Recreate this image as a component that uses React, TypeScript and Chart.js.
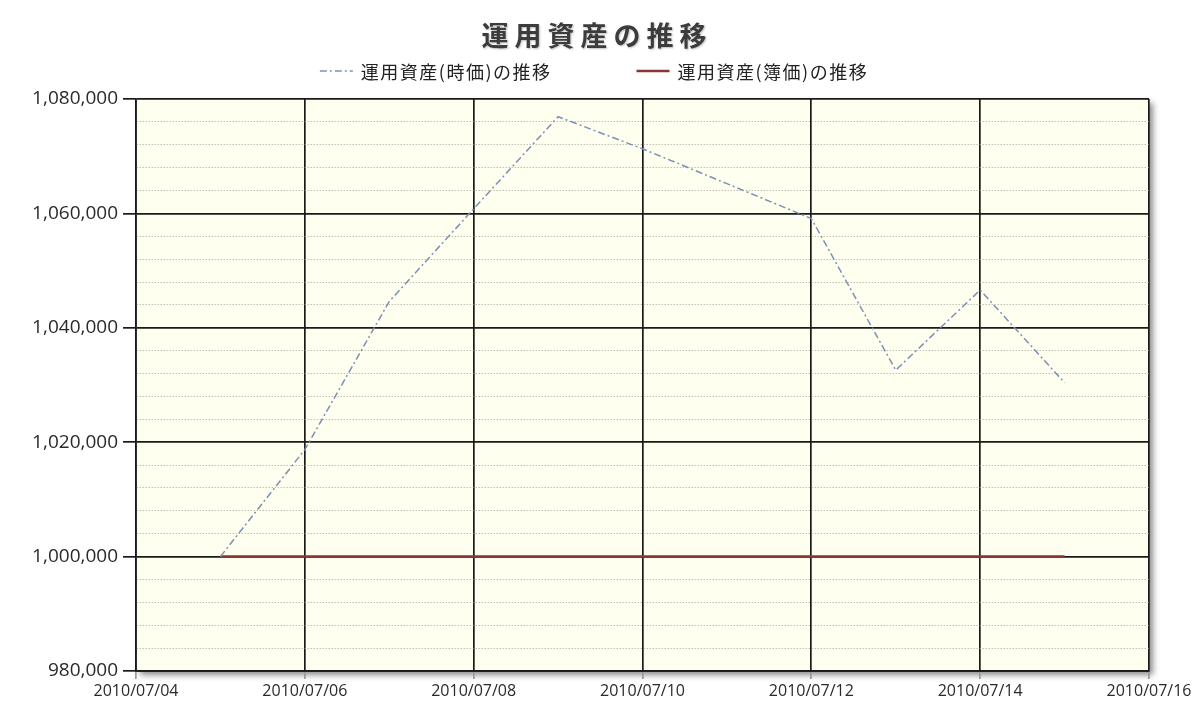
import React, { useEffect, useRef } from "react";
import { Chart, registerables } from "chart.js";

Chart.register(...registerables);

// ---- data ----
const TITLE = "運用資産の推移";
const SERIES_NAMES = ["運用資産(時価)の推移", "運用資産(簿価)の推移"];
const DATES = [
  "2010/07/05",
  "2010/07/06",
  "2010/07/07",
  "2010/07/08",
  "2010/07/09",
  "2010/07/10",
  "2010/07/11",
  "2010/07/12",
  "2010/07/13",
  "2010/07/14",
  "2010/07/15",
];
const MARKET_VALUES = [
  1000000, 1018700, 1044600, 1060800, 1076900, 1071300, 1065200, 1059100,
  1032600, 1046600, 1030400,
];
const BOOK_VALUES = [
  1000000, 1000000, 1000000, 1000000, 1000000, 1000000, 1000000, 1000000,
  1000000, 1000000, 1000000,
];
const X_START = "2010/07/04";
const X_END = "2010/07/16";
const X_STEP_DAYS = 2;
const Y_MIN = 980000;
const Y_MAX = 1080000;
const Y_MAJOR = 20000;
const Y_MINOR = 4000;

// ---- helpers ----
const DAY_MS = 86400000;
function parseDay(s: string): number {
  const [y, m, d] = s.split("/").map(Number);
  return Math.round(Date.UTC(y, m - 1, d) / DAY_MS);
}
const BASE_DAY = parseDay(X_START);
const dayOffset = (s: string) => parseDay(s) - BASE_DAY;
const pad2 = (n: number) => String(n).padStart(2, "0");
function formatDay(offset: number): string {
  const d = new Date((BASE_DAY + offset) * DAY_MS);
  return `${d.getUTCFullYear()}/${pad2(d.getUTCMonth() + 1)}/${pad2(d.getUTCDate())}`;
}
const isMajor = (v: number) => Math.abs((v - Y_MIN) % Y_MAJOR) < 1e-6;

const CJK = '"Noto Sans CJK JP", "Noto Sans", sans-serif';
const NUM = '"Open Sans", "Noto Sans", sans-serif';

const plotBackground = {
  id: "plotBackground",
  beforeDraw(chart: any) {
    const { ctx, chartArea: a } = chart;
    ctx.save();
    ctx.shadowColor = "rgba(0,0,0,0.45)";
    ctx.shadowBlur = 6;
    ctx.shadowOffsetX = 4;
    ctx.shadowOffsetY = 4;
    ctx.fillStyle = "#FFFFF0";
    ctx.fillRect(a.left, a.top, a.width, a.height);
    ctx.restore();
  },
};

const titleAndLegend = {
  id: "titleAndLegend",
  afterDraw(chart: any) {
    const { ctx } = chart;
    const cx = 594;
    // title
    ctx.save();
    ctx.font = `bold 27px ${CJK}`;
    (ctx as any).letterSpacing = "6px";
    ctx.fillStyle = "#3c3c3c";
    ctx.textAlign = "center";
    ctx.textBaseline = "middle";
    ctx.shadowColor = "rgba(0,0,0,0.25)";
    ctx.shadowBlur = 2;
    ctx.shadowOffsetX = 1;
    ctx.shadowOffsetY = 1;
    ctx.fillText(chart.options.plugins.customTitle.text, cx + 3, 36);
    ctx.restore();

    // legend
    ctx.save();
    ctx.font = `18px ${CJK}`;
    (ctx as any).letterSpacing = "1.5px";
    ctx.textBaseline = "middle";
    const lineW = 33;
    const lineGap = 8;
    const itemGap = 85;
    const ds = chart.data.datasets;
    const widths = ds.map((d: any) => lineW + lineGap + ctx.measureText(d.label).width);
    const total = widths.reduce((s: number, w: number) => s + w, 0) + itemGap * (ds.length - 1);
    let x = cx - total / 2;
    const y = 71;
    ds.forEach((d: any, i: number) => {
      ctx.save();
      ctx.strokeStyle = d.borderColor;
      ctx.lineWidth = d.borderWidth;
      ctx.setLineDash(d.borderDash || []);
      ctx.beginPath();
      ctx.moveTo(x, y);
      ctx.lineTo(x + lineW, y);
      ctx.stroke();
      ctx.restore();
      ctx.fillStyle = "#222";
      ctx.fillText(d.label, x + lineW + lineGap, y + 1);
      x += widths[i] + itemGap;
    });
    ctx.restore();
  },
};

export default function App() {
  const canvasRef = useRef<HTMLCanvasElement | null>(null);

  useEffect(() => {
    if (!canvasRef.current) return;
    const chart = new Chart(canvasRef.current, {
      type: "line",
      data: {
        datasets: [
          {
            label: SERIES_NAMES[0],
            data: DATES.map((d, i) => ({ x: dayOffset(d), y: MARKET_VALUES[i] })),
            borderColor: "#7c90b6",
            borderWidth: 1.5,
            borderDash: [7, 3, 2, 3],
            pointRadius: 0,
            tension: 0,
            fill: false,
          },
          {
            label: SERIES_NAMES[1],
            data: DATES.map((d, i) => ({ x: dayOffset(d), y: BOOK_VALUES[i] })),
            borderColor: "#8b3434",
            borderWidth: 2.5,
            pointRadius: 0,
            tension: 0,
            fill: false,
          },
        ],
      },
      options: {
        animation: false,
        responsive: false,
        devicePixelRatio: 1,
        layout: { padding: { top: 99, right: 51, left: 0, bottom: 0 } },
        plugins: {
          legend: { display: false },
          title: { display: false },
          tooltip: { enabled: false },
          customTitle: { text: TITLE },
        } as any,
        scales: {
          x: {
            type: "linear",
            min: dayOffset(X_START),
            max: dayOffset(X_END),
            afterFit: (s: any) => {
              s.height = 54;
            },
            ticks: {
              stepSize: X_STEP_DAYS,
              callback: (v: any) => formatDay(Number(v)),
              color: "#2a2a2a",
              font: { family: NUM, size: 16 },
              padding: 3,
              maxRotation: 0,
              autoSkip: false,
            },
            grid: {
              color: "#1a1a1a",
              lineWidth: 1.7,
              tickColor: "#9a9a9a",
              tickLength: 8,
            },
            border: { color: "#1a1a1a", width: 1.7 },
          },
          y: {
            type: "linear",
            min: Y_MIN,
            max: Y_MAX,
            afterFit: (s: any) => {
              s.width = 136;
            },
            ticks: {
              stepSize: Y_MINOR,
              autoSkip: false,
              callback: (v: any) =>
                isMajor(Number(v)) ? Number(v).toLocaleString("en-US") : "",
              color: "#2a2a2a",
              font: { family: NUM, size: 19 },
              padding: 5,
            },
            grid: {
              color: (c: any) =>
                c.tick && !isMajor(c.tick.value) ? "#a4a49a" : "#1a1a1a",
              lineWidth: (c: any) => (c.tick && !isMajor(c.tick.value) ? 1 : 1.7),
              tickColor: (c: any) =>
                c.tick && !isMajor(c.tick.value) ? "rgba(0,0,0,0)" : "#1a1a1a",
              tickLength: 13,
            },
            border: {
              color: "#1a1a1a",
              width: 1.7,
              dash: (c: any) =>
                c.type === "tick" && c.tick && !isMajor(c.tick.value) ? [1, 2] : [],
            } as any,
          },
        },
      },
      plugins: [plotBackground, titleAndLegend],
    });
    return () => chart.destroy();
  }, []);

  return (
    <div style={{ position: "absolute", left: 0, top: 0, width: 1200, height: 725, background: "#fff" }}>
      <canvas ref={canvasRef} width={1200} height={725} style={{ display: "block" }} />
    </div>
  );
}
